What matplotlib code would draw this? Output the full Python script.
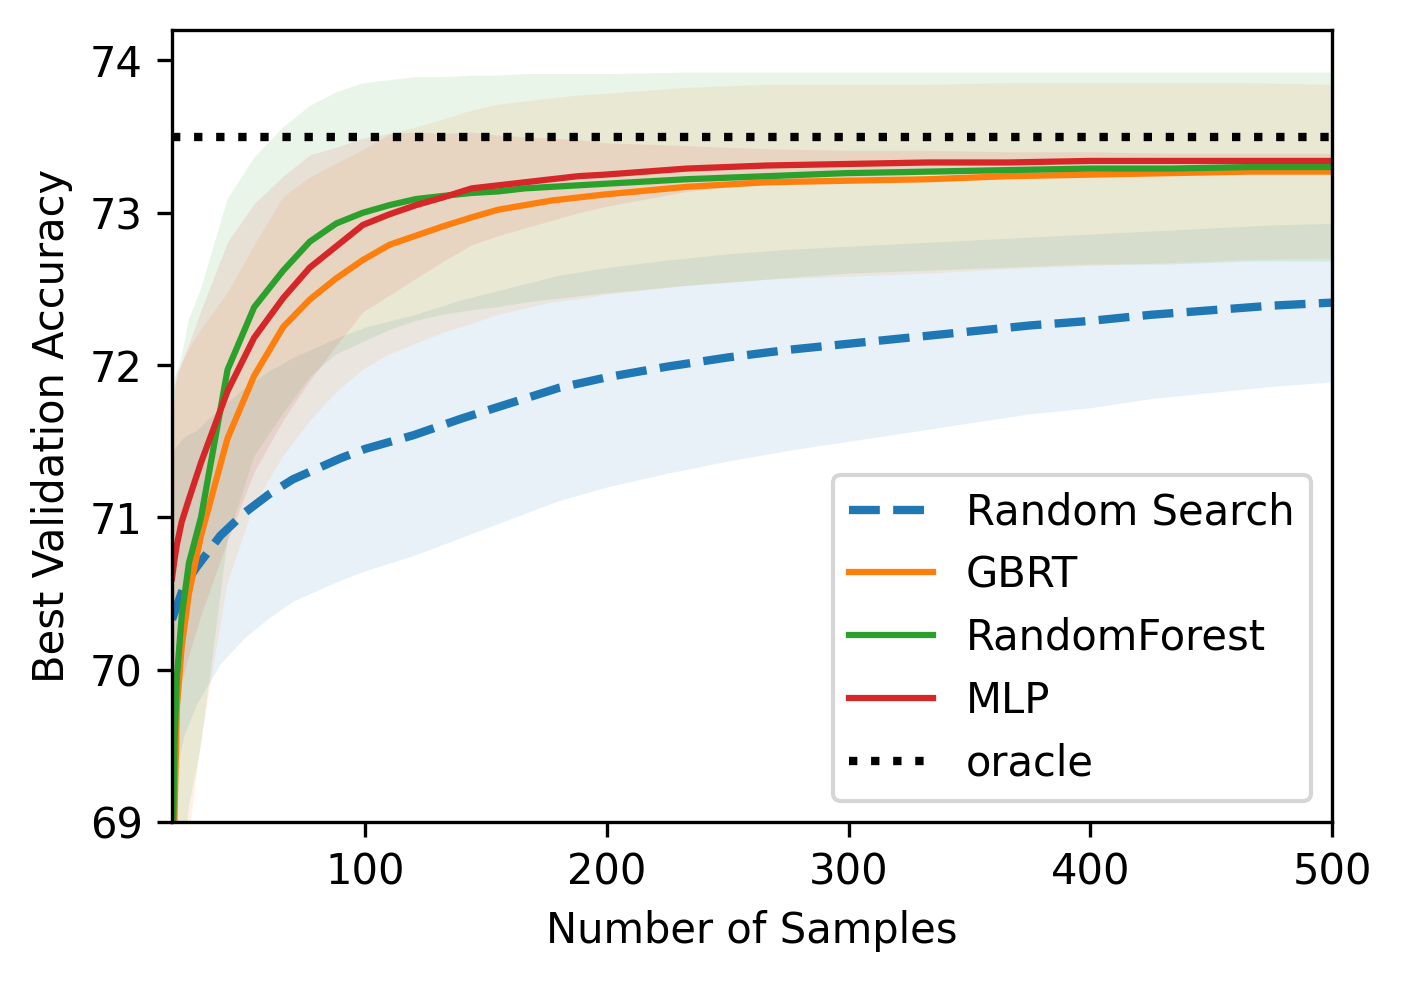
import matplotlib
matplotlib.use('Agg')
import matplotlib.pyplot as plt
import numpy as np

# random search curve (mean and std over runs)
rs_x = [20, 25, 30, 40, 50, 60, 70, 80, 90, 100, 120, 140, 160, 180, 200,
        225, 250, 275, 300, 325, 350, 375, 400, 425, 450, 475, 500]
rs_mean = [70.33, 70.55, 70.67, 70.88, 71.03, 71.15, 71.25, 71.32, 71.39, 71.45,
           71.54, 71.65, 71.75, 71.85, 71.92, 71.99, 72.05, 72.10, 72.14, 72.18,
           72.22, 72.26, 72.29, 72.33, 72.36, 72.39, 72.41]
rs_std = [1.1, 0.98, 0.9, 0.84, 0.82, 0.81, 0.80, 0.80, 0.80, 0.80, 0.79, 0.78,
          0.76, 0.74, 0.72, 0.70, 0.68, 0.66, 0.64, 0.62, 0.60, 0.58, 0.57, 0.55,
          0.54, 0.53, 0.52]

# model based search curves
mx = [20, 21, 22, 24, 27, 32, 43, 54, 66, 77, 88, 99, 110, 121, 132, 144, 155,
      166, 177, 188, 199, 233, 266, 299, 333, 366, 400, 433, 466, 500]

gbrt_mean = [68.3, 69.0, 69.75, 70.15, 70.5, 70.88, 71.52, 71.93, 72.25, 72.43,
             72.57, 72.69, 72.79, 72.85, 72.91, 72.97, 73.02, 73.05, 73.08, 73.10,
             73.12, 73.17, 73.20, 73.21, 73.22, 73.24, 73.25, 73.26, 73.27, 73.27]
gbrt_std = [3.5, 2.7, 2.2, 1.85, 1.6, 1.35, 0.95, 0.85, 0.85, 0.80, 0.75, 0.72,
            0.72, 0.71, 0.70, 0.70, 0.69, 0.68, 0.67, 0.67, 0.66, 0.65, 0.64,
            0.63, 0.62, 0.61, 0.60, 0.59, 0.58, 0.57]

rf_mean = [68.5, 69.5, 69.95, 70.35, 70.7, 71.0, 71.97, 72.38, 72.62, 72.81,
           72.93, 73.00, 73.05, 73.09, 73.11, 73.13, 73.14, 73.16, 73.17, 73.18,
           73.19, 73.22, 73.24, 73.26, 73.27, 73.28, 73.29, 73.29, 73.30, 73.30]
rf_std = [3.3, 2.4, 2.0, 1.71, 1.6, 1.5, 1.12, 0.98, 0.94, 0.89, 0.86, 0.85,
          0.82, 0.80, 0.78, 0.77, 0.76, 0.75, 0.74, 0.73, 0.72, 0.70, 0.68,
          0.66, 0.65, 0.64, 0.63, 0.63, 0.62, 0.62]

mlp_mean = [70.6, 70.72, 70.82, 70.97, 71.12, 71.36, 71.83, 72.18, 72.44, 72.64,
            72.78, 72.92, 72.99, 73.05, 73.10, 73.16, 73.18, 73.20, 73.22, 73.24,
            73.25, 73.29, 73.31, 73.32, 73.33, 73.33, 73.34, 73.34, 73.34, 73.34]
mlp_std = [1.2, 1.15, 1.1, 1.05, 1.02, 1.0, 0.98, 0.88, 0.80, 0.74, 0.65, 0.57,
           0.53, 0.48, 0.42, 0.37, 0.33, 0.30, 0.27, 0.24, 0.21, 0.15, 0.11,
           0.09, 0.08, 0.07, 0.06, 0.05, 0.05, 0.05]

oracle = 73.5

fig = plt.figure(figsize=(1403/300, 982/300), dpi=300)
ax = fig.add_axes([0.1226, 0.1629, 0.8268, 0.8066])

def curve(x, m, s, color, label, ls='-', lw=1.5):
    m = np.array(m)
    s = np.array(s)
    ax.plot(x, m, ls, color=color, lw=lw, label=label)
    ax.fill_between(x, m - s, m + s, color=color, alpha=0.1, lw=0)

curve(rs_x, rs_mean, rs_std, 'C0', 'Random Search', ls='--', lw=2)
curve(mx, gbrt_mean, gbrt_std, 'C1', 'GBRT')
curve(mx, rf_mean, rf_std, 'C2', 'RandomForest')
curve(mx, mlp_mean, mlp_std, 'C3', 'MLP')
ax.axhline(oracle, color='k', ls=':', lw=2, label='oracle')

ax.set_xlim(20, 500)
ax.set_ylim(69, 74.2)
ax.set_xticks([100, 200, 300, 400, 500])
ax.set_yticks([69, 70, 71, 72, 73, 74])
ax.set_xlabel('Number of Samples')
ax.set_ylabel('Best Validation Accuracy')
ax.legend(loc='lower right')

fig.savefig('out.png', dpi=300)
